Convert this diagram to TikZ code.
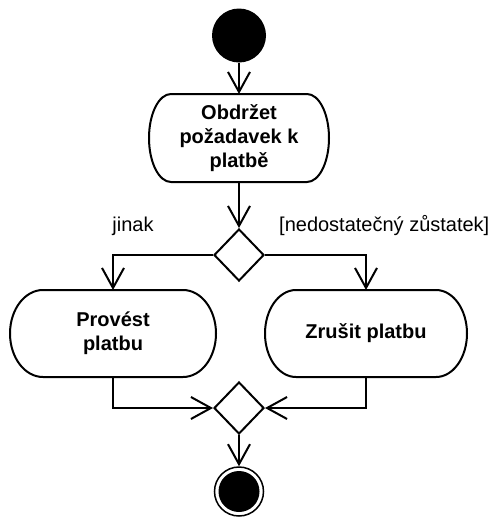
\documentclass[tikz,border=0pt]{standalone}
\usepackage{fontspec}
\setmainfont{Liberation Sans}
\usetikzlibrary{arrows.meta,shapes.geometric}

% stadium-like outline around an action node: #1 node, #2 end depth, #3 half height
\newcommand\actoutline[3]{%
  \draw[outline] ([xshift=#2]#1.north west) -- ([xshift=-#2]#1.north east)
    arc[start angle=90,end angle=-90,x radius=#2,y radius=#3]
    -- ([xshift=#2]#1.south west)
    arc[start angle=270,end angle=90,x radius=#2,y radius=#3] -- cycle;}

\begin{document}
\begin{tikzpicture}[x=1pt,y=-1pt,
  flow/.style={line width=2pt,-{Straight Barb[length=20pt,width=22pt]}},
  outline/.style={line width=2pt,line join=round},
  act/.style={rectangle,inner sep=0pt,outer sep=0pt,align=center,
    font=\bfseries\fontsize{20}{24}\selectfont},
  branch/.style={diamond,draw,line width=2pt,minimum width=50pt,
    minimum height=52pt,inner sep=0pt},
  startnode/.style={circle,fill=black,minimum size=54pt,inner sep=0pt},
  finalnode/.style={circle,draw,line width=1.5pt,minimum size=49pt,inner sep=0pt,
    path picture={\fill (path picture bounding box.center) circle[radius=20.5pt];}},
  guard/.style={font=\fontsize{20}{24}\selectfont,inner sep=0pt}]
\useasboundingbox (0,0) rectangle (493,517);

\node[startnode] (start) at (239,35.5) {};
\node[act,minimum width=180pt,minimum height=88pt] (receive) at (239,138) {Obdržet\\požadavek k\\platbě};
\node[branch] (decide) at (239,255) {};
\node[act,minimum width=206pt,minimum height=87pt] (pay) at (113,333.5) {Provést\\platbu};
\node[act,minimum width=202pt,minimum height=87pt] (cancel) at (366,333.5) {Zrušit platbu};
\node[branch] (merge) at (239,408) {};
\node[finalnode] (end) at (239,491.5) {};

\actoutline{receive}{22pt}{44pt}
\actoutline{pay}{33pt}{43.5pt}
\actoutline{cancel}{31pt}{43.5pt}

\node[guard,anchor=base] (else) at (133,231) {jinak};
\node[guard,anchor=base west] (insufficient) at (279,231) {[nedostatečný zůstatek]};

\draw[flow] (start) -- (receive);
\draw[flow] (receive) -- (decide);
\draw[flow] (decide.west) -| (pay.north);
\draw[flow] (decide.east) -| (cancel.north);
\draw[flow] (pay.south) |- (merge.west);
\draw[flow] (cancel.south) |- (merge.east);
\draw[flow] (merge) -- (end);
\end{tikzpicture}
\end{document}
